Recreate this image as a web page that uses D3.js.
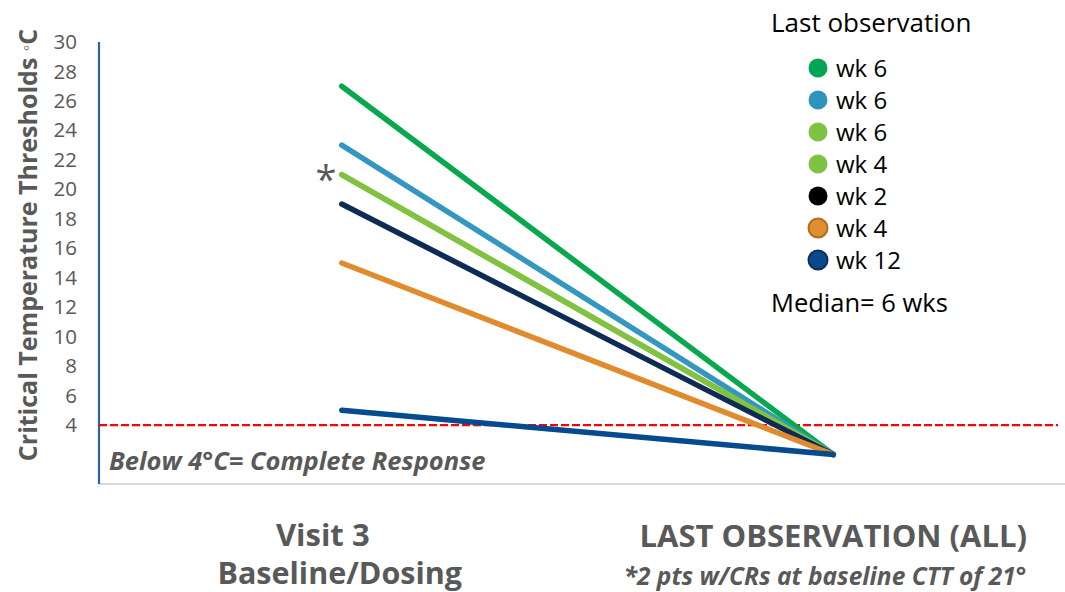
<!DOCTYPE html>
<html>
<head>
<meta charset="utf-8">
<script src="https://cdn.jsdelivr.net/npm/d3@7"></script>
<style>
  html, body { margin: 0; padding: 0; background: #fff; }
  svg { display: block; font-family: "Open Sans", "Noto Sans", sans-serif; }
</style>
</head>
<body>
<svg id="chart" width="1065" height="592"></svg>
<script>
// Visit categories on the x axis
const categories = ["Visit 3", "LAST OBSERVATION (ALL)"];
// Per-patient CTT at baseline and at the last observation (°C)
const patientLabels = ["wk 6", "wk 6", "wk 6", "wk 4", "wk 2", "wk 4", "wk 12"];
const baselineCTT = [27, 23, 21, 21, 19, 15, 5];
const lastCTT = [2, 2, 2, 2, 2, 2, 2];
const lineColors = ["#08A84E", "#3497BF", "#82C241", "#82C241", "#0D2B55", "#E08C2E", "#054B8D"];
const markerColors = ["#00A651", "#2E94BD", "#7DC242", "#7DC242", "#000000", "#E08F2F", "#0A4A8C"];
const markerStrokes = ["none", "none", "none", "none", "none", "#B06C1F", "#0A2F5E"];
const yTicks = [4, 6, 8, 10, 12, 14, 16, 18, 20, 22, 24, 26, 28, 30];
const responseThreshold = 4;

const svg = d3.select("#chart");
const grey = "#595959";

const x = d3.scalePoint().domain(categories).range([96, 1079]).padding(0.5);
const y = d3.scaleLinear().domain([0, 30]).range([484, 42]);

// horizontal base line
svg.append("line")
  .attr("x1", 99).attr("x2", 1065)
  .attr("y1", y(0)).attr("y2", y(0))
  .attr("stroke", "#d9d9d9").attr("stroke-width", 2);

// y axis
const yAxis = d3.axisLeft(y).tickValues(yTicks).tickSize(0).tickPadding(0);
const gy = svg.append("g").attr("transform", "translate(77,0)").call(yAxis);
gy.select(".domain").remove();
gy.selectAll("text")
  .attr("fill", grey)
  .style("font-family", "'Open Sans', sans-serif")
  .style("font-size", "20.5px");

svg.append("line")
  .attr("x1", 99).attr("x2", 99)
  .attr("y1", y(30)).attr("y2", y(0))
  .attr("stroke", "#2F63A8").attr("stroke-width", 2.2);

// y axis title
const yTitle = svg.append("text")
  .attr("transform", `translate(37,${245}) rotate(-90)`)
  .attr("text-anchor", "middle")
  .attr("fill", grey)
  .style("font-size", "25px")
  .style("font-weight", "700");
yTitle.append("tspan").text("Critical Temperature Thresholds ");
yTitle.append("tspan").style("font-weight", "400").style("font-size", "18px").attr("dy", "-5").text("◦");
yTitle.append("tspan").attr("dy", "5").text("C");

// complete-response threshold
svg.append("line")
  .attr("x1", 99).attr("x2", 1058)
  .attr("y1", y(responseThreshold)).attr("y2", y(responseThreshold))
  .attr("stroke", "#FF0000").attr("stroke-width", 2.2)
  .attr("stroke-dasharray", "8,3");

svg.append("text")
  .attr("x", 109).attr("y", 470)
  .attr("fill", grey)
  .style("font-size", "25.5px")
  .style("font-weight", "700")
  .style("font-style", "italic")
  .text("Below 4°C= Complete Response");

// patient lines
const lineGen = d3.line().x(d => x(d.cat)).y(d => y(d.v));
patientLabels.forEach((lab, i) => {
  const pts = [
    { cat: categories[0], v: baselineCTT[i] },
    { cat: categories[1], v: lastCTT[i] }
  ];
  svg.append("path")
    .attr("d", lineGen(pts))
    .attr("fill", "none")
    .attr("stroke", lineColors[i])
    .attr("stroke-width", 5.5)
    .attr("stroke-linecap", "round");
});

// asterisk for the two overlapping patients at 21°
svg.append("text")
  .attr("x", 326).attr("y", y(21) + 18)
  .attr("text-anchor", "middle")
  .attr("fill", grey)
  .style("font-size", "38px")
  .text("*");

// x category labels
svg.append("text")
  .attr("x", x(categories[0]) - 19).attr("y", 546)
  .attr("text-anchor", "middle").attr("fill", grey)
  .style("font-size", "31px").style("font-weight", "700")
  .text("Visit 3");
svg.append("text")
  .attr("x", x(categories[0]) - 2).attr("y", 584)
  .attr("text-anchor", "middle").attr("fill", grey)
  .style("font-size", "30.5px").style("font-weight", "700")
  .text("Baseline/Dosing");
svg.append("text")
  .attr("x", x(categories[1])).attr("y", 547)
  .attr("text-anchor", "middle").attr("fill", grey)
  .style("font-size", "31px").style("font-weight", "700")
  .text("LAST OBSERVATION (ALL)");
svg.append("text")
  .attr("x", 825).attr("y", 585)
  .attr("text-anchor", "middle").attr("fill", grey)
  .style("font-size", "24.5px").style("font-weight", "700").style("font-style", "italic")
  .text("*2 pts w/CRs at baseline CTT of 21°");

// legend
svg.append("text")
  .attr("x", 771).attr("y", 32)
  .attr("fill", "#000")
  .style("font-size", "26px")
  .text("Last observation");

const legend = svg.append("g");
patientLabels.forEach((lab, i) => {
  const cy = 68 + i * 32;
  legend.append("circle")
    .attr("cx", 818).attr("cy", cy).attr("r", 9.5)
    .attr("fill", markerColors[i])
    .attr("stroke", markerStrokes[i])
    .attr("stroke-width", 2);
  legend.append("text")
    .attr("x", 836).attr("y", cy + 9)
    .attr("fill", "#000")
    .style("font-size", "24px")
    .text(lab);
});

svg.append("text")
  .attr("x", 771).attr("y", 312)
  .attr("fill", "#000")
  .style("font-size", "25.5px")
  .text("Median= 6 wks");
</script>
</body>
</html>
